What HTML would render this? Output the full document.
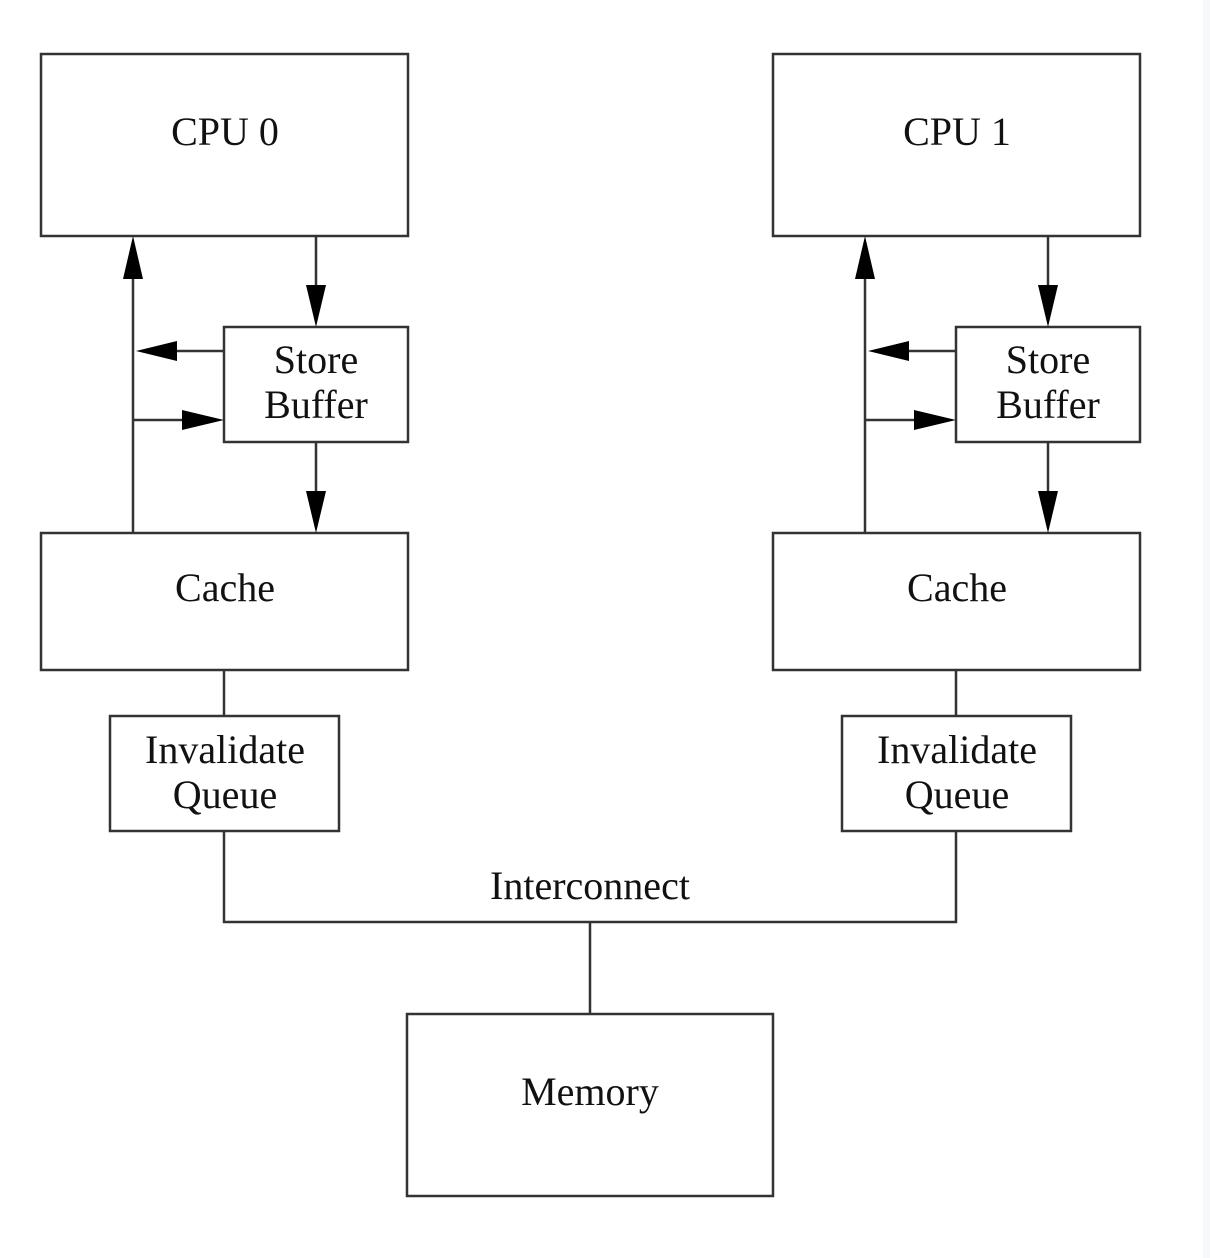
<!DOCTYPE html>
<html><head><meta charset="utf-8"><style>
html,body{margin:0;padding:0;background:#fff;}
body{width:1210px;height:1258px;overflow:hidden;position:relative;}
.strip{position:absolute;left:1203px;top:0;width:7px;height:1258px;background:#f7f8fa;}
svg text{font-family:"Liberation Serif",serif;font-size:40px;fill:#111;text-anchor:middle;}
</style></head><body>
<div class="strip"></div>
<svg width="1210" height="1258" viewBox="0 0 1210 1258" style="position:absolute;left:0;top:0">
<defs>
<g id="side" stroke="#333" stroke-width="2.5" fill="none">
  <rect x="41" y="54" width="367" height="182"/>
  <rect x="224" y="327" width="184" height="115"/>
  <rect x="41" y="533" width="367" height="137"/>
  <rect x="110" y="716" width="229" height="115"/>
  <line x1="133" y1="533" x2="133" y2="276"/>
  <line x1="316" y1="236" x2="316" y2="287"/>
  <line x1="316" y1="442" x2="316" y2="493"/>
  <line x1="224" y1="351" x2="176" y2="351"/>
  <line x1="133" y1="420" x2="182" y2="420"/>
  <line x1="224" y1="670" x2="224" y2="716"/>
  <g fill="#000" stroke="none">
    <polygon points="133,236 123,279 143,279"/>
    <polygon points="316,327 306,285 326,285"/>
    <polygon points="316,533 306,491 326,491"/>
    <polygon points="136,351 177,341 177,361"/>
    <polygon points="224,420 182,410 182,430"/>
  </g>
</g>
</defs>
<use href="#side"/>
<use href="#side" transform="translate(732,0)"/>
<g stroke="#333" stroke-width="2.5" fill="none">
  <polyline points="224,831 224,922 956,922 956,831"/>
  <line x1="590" y1="922" x2="590" y2="1014"/>
  <rect x="407" y="1014" width="366" height="182"/>
</g>
<text x="225" y="145">CPU 0</text>
<text x="957" y="145">CPU 1</text>
<text x="316" y="373">Store</text>
<text x="316" y="418">Buffer</text>
<text x="1048" y="373">Store</text>
<text x="1048" y="418">Buffer</text>
<text x="225" y="601">Cache</text>
<text x="957" y="601">Cache</text>
<text x="225" y="763">Invalidate</text>
<text x="225" y="808">Queue</text>
<text x="957" y="763">Invalidate</text>
<text x="957" y="808">Queue</text>
<text x="590" y="899">Interconnect</text>
<text x="590" y="1105">Memory</text>
</svg>
</body></html>
